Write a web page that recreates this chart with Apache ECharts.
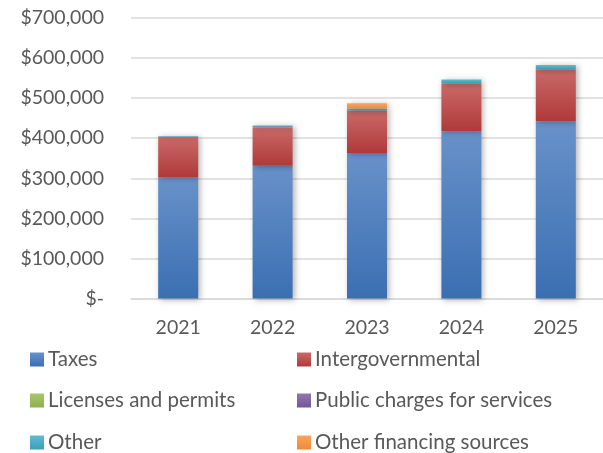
<!DOCTYPE html>
<html>
<head>
<meta charset="utf-8">
<script src="https://cdn.jsdelivr.net/npm/echarts@6/dist/echarts.min.js"></script>
<style>
    html, body { margin: 0; padding: 0; background: #fff; }
    #main { width: 603px; height: 453px; }
</style>
</head>
<body>
<div id="main"></div>
<script>
var years = ['2021', '2022', '2023', '2024', '2025'];
var taxes = [302000, 331000, 363000, 417500, 442500];
var intergovernmental = [101000, 96500, 105000, 119000, 129000];
var licenses = [500, 500, 500, 500, 500];
var publicCharges = [500, 2000, 1000, 1000, 1000];
var other = [1500, 2000, 4500, 8500, 9500];
var otherFinancing = [0, 0, 13000, 0, 0];
var yTicks = [0, 100000, 200000, 300000, 400000, 500000, 600000, 700000];

var font = 'Lato, "Open Sans", sans-serif';
var textColor = '#595959';

function grad(top, bottom) {
    return new echarts.graphic.LinearGradient(0, 0, 0, 1, [
        {offset: 0, color: top},
        {offset: 1, color: bottom}
    ]);
}

function money(v) {
    if (v === 0) return '$-';
    return '$' + v.toString().replace(/\B(?=(\d{3})+(?!\d))/g, ',');
}

var seriesDefs = [
    {name: 'Taxes', data: taxes, color: '#4f81bd', fill: grad('#6891c9', '#3b6fb2')},
    {name: 'Intergovernmental', data: intergovernmental, color: '#c0504d', fill: grad('#c96a68', '#b0393a')},
    {name: 'Licenses and permits', data: licenses, color: '#9bbb59', fill: grad('#a8c66e', '#8fb04c')},
    {name: 'Public charges for services', data: publicCharges, color: '#8064a2', fill: grad('#8f77ae', '#72579a')},
    {name: 'Other', data: other, color: '#4bacc6', fill: grad('#5fbbd2', '#3c9fbb')},
    {name: 'Other financing sources', data: otherFinancing, color: '#f79646', fill: grad('#fba45c', '#f08a38')}
];

var chart = echarts.init(document.getElementById('main'), null, {renderer: 'canvas'});

var series = seriesDefs.map(function (s) {
    return {
        name: s.name,
        type: 'bar',
        stack: 'total',
        barWidth: 40,
        data: s.data,
        color: s.color,
        itemStyle: {
            color: s.fill,
            shadowColor: 'rgba(0,0,0,0.3)',
            shadowBlur: 6,
            shadowOffsetX: 2,
            shadowOffsetY: 1
        }
    };
});

// one legend per entry, laid out as 2 columns x 3 rows
var legendPos = [[25, 344], [292, 344], [25, 385], [292, 385], [25, 427], [292, 427]];
var legends = seriesDefs.map(function (s, i) {
    return {
        left: legendPos[i][0],
        top: legendPos[i][1],
        data: [s.name],
        icon: 'rect',
        itemWidth: 14,
        itemHeight: 14,
        selectedMode: false,
        textStyle: {fontFamily: font, fontSize: 20.5, color: textColor, padding: [0, 0, 0, -1]}
    };
});

chart.setOption({
    animation: false,
    backgroundColor: '#fff',
    grid: {left: 131, right: 0, top: 18, bottom: 154.5},
    legend: legends,
    xAxis: {
        type: 'category',
        data: years,
        axisTick: {show: false},
        axisLine: {show: true, lineStyle: {color: '#d9d9d9', width: 1.5}},
        axisLabel: {fontFamily: font, fontSize: 19.5, color: textColor, margin: 19}
    },
    yAxis: {
        type: 'value',
        min: yTicks[0],
        max: yTicks[yTicks.length - 1],
        interval: 100000,
        axisLine: {show: false},
        axisTick: {show: false},
        splitLine: {lineStyle: {color: '#d9d9d9', width: 1.5}},
        axisLabel: {fontFamily: font, fontSize: 19.5, color: textColor, margin: 27, formatter: money}
    },
    series: series
});
</script>
</body>
</html>
